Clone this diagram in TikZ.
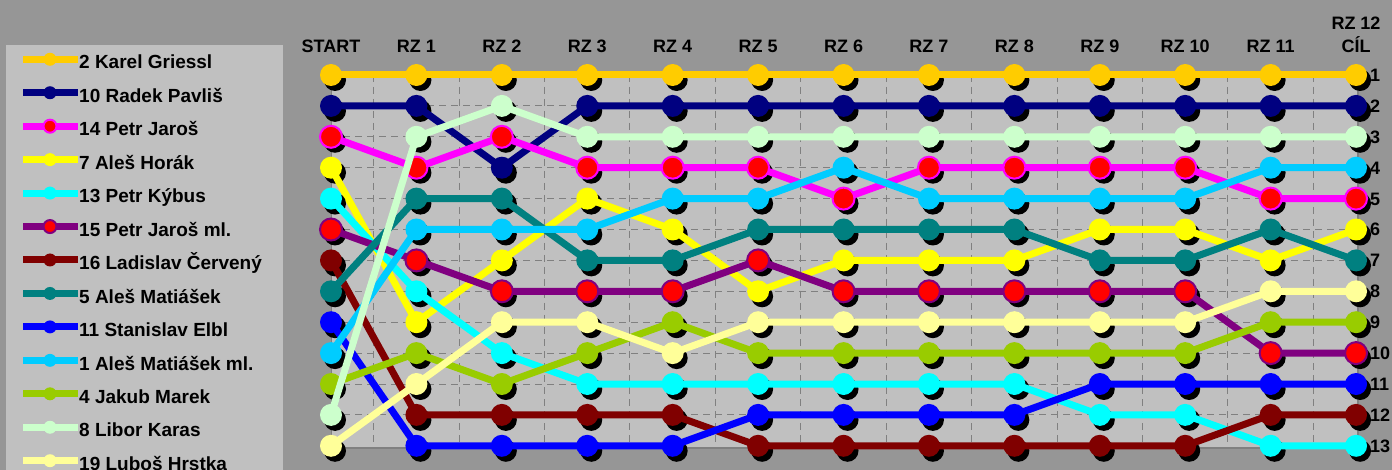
\documentclass[tikz,border=0pt]{standalone}
\usepackage{fontspec}
\setmainfont{Liberation Sans}
\usetikzlibrary{calc}
\definecolor{bggray}{HTML}{969696}
\definecolor{panelgray}{HTML}{C0C0C0}
\definecolor{gridgray}{HTML}{808080}
\definecolor{cgold}{HTML}{FFCC00}
\definecolor{cnavy}{HTML}{000080}
\definecolor{cmag}{HTML}{FF00FF}
\definecolor{cyel}{HTML}{FFFF00}
\definecolor{ccyan}{HTML}{00FFFF}
\definecolor{cpurple}{HTML}{800080}
\definecolor{cmaroon}{HTML}{800000}
\definecolor{cteal}{HTML}{008080}
\definecolor{cblue}{HTML}{0000FF}
\definecolor{csky}{HTML}{00CCFF}
\definecolor{cgreen}{HTML}{99CC00}
\definecolor{clgreen}{HTML}{CCFFCC}
\definecolor{clyel}{HTML}{FFFF99}
\definecolor{cred}{HTML}{FF0000}
\tikzset{
  axislabel/.style={font=\fontsize{18}{23.5}\selectfont\bfseries, align=center, inner sep=0pt},
  ranklabel/.style={font=\fontsize{18}{20}\selectfont\bfseries, anchor=base west, inner sep=0pt},
  legendtext/.style={font=\fontsize{19}{21}\selectfont\bfseries, anchor=base west, inner sep=0pt},
  gridline/.style={draw=gridgray, line width=1pt, dash pattern=on 7pt off 5pt},
  seriesline/.style={line width=7pt, line join=round, line cap=round},
  markshadow/.style={fill=black},
}
% #1 name, #2 line colour, #3 marker style, #4 ranks, #5 legend index, #6 legend text
\newcommand\drawseries[6]{%
  \foreach \r [count=\i from 0] in {#4} {
    \coordinate (#1-\i) at ({331+85.42*\i},{75+30.9*(\r-1)});
  }
  \foreach \i in {0,...,12} {\fill[markshadow] ($(#1-\i)+(4,5)$) circle (11pt);}
  \draw[seriesline, #2] (#1-0) \foreach \i in {1,...,12} {-- (#1-\i)};
  \foreach \i in {0,...,12} {\path[#3] (#1-\i) circle (11pt);}
  % legend entry
  \coordinate (#1-la) at (23,{59.3+33.45*#5});
  \coordinate (#1-lb) at (78,{59.3+33.45*#5});
  \coordinate (#1-lm) at (50,{59.3+33.45*#5});
  \draw[line width=7pt, #2] (#1-la) -- (#1-lb);
  \path[#3] (#1-lm) circle (6.5pt);
  \node[legendtext] (#1-lt) at (79,{59.3+33.45*#5+9.7}) {#6};
}
\begin{document}
\begin{tikzpicture}[x=1pt,y=-1pt]
\useasboundingbox (0,0) rectangle (1392,470);
\fill[bggray] (0,0) rectangle (1392,470);
% legend box
\fill[panelgray] (6,45) rectangle (283,475);
% plot area
\fill[gridgray] (333,77) rectangle (1359,449);
\fill[panelgray] (331,75) rectangle (1357,446.6);
\foreach \k in {0,...,11} {
  \draw[gridline] ({331+42.71+85.42*\k},75) -- ({331+42.71+85.42*\k},446.6);
}
\foreach \r in {2,...,12} {
  \draw[gridline] (331,{75+30.9*(\r-1)}) -- (1357,{75+30.9*(\r-1)});
}
\draw[gridgray, line width=1pt] (331,75) -- (331,446.6);
% axis labels
\foreach \t [count=\i from 0] in {START,RZ 1,RZ 2,RZ 3,RZ 4,RZ 5,RZ 6,RZ 7,RZ 8,RZ 9,RZ 10,RZ 11} {
  \node[axislabel, anchor=base] (cat-\i) at ({331+85.42*\i},52.7) {\t};
}
\node[axislabel, anchor=base] (cat-12a) at (1356,29.3) {RZ 12};
\node[axislabel, anchor=base] (cat-12) at (1356,52.7) {CÍL};
% series
\drawseries{gold}{cgold}{fill=cgold}{1,1,1,1,1,1,1,1,1,1,1,1,1}{0}{2 Karel Griessl}
\drawseries{navy}{cnavy}{fill=cnavy}{2,2,4,2,2,2,2,2,2,2,2,2,2}{1}{10 Radek Pavliš}
\drawseries{mag}{cmag}{fill=cred, draw=cmag, line width=2pt}{3,4,3,4,4,4,5,4,4,4,4,5,5}{2}{14 Petr Jaroš}
\drawseries{yel}{cyel}{fill=cyel}{4,9,7,5,6,8,7,7,7,6,6,7,6}{3}{7 Aleš Horák}
\drawseries{cyan}{ccyan}{fill=ccyan}{5,8,10,11,11,11,11,11,11,12,12,13,13}{4}{13 Petr Kýbus}
\drawseries{purple}{cpurple}{fill=cred, draw=cpurple, line width=2pt}{6,7,8,8,8,7,8,8,8,8,8,10,10}{5}{15 Petr Jaroš ml.}
\drawseries{maroon}{cmaroon}{fill=cmaroon}{7,12,12,12,12,13,13,13,13,13,13,12,12}{6}{16 Ladislav Červený}
\drawseries{teal}{cteal}{fill=cteal}{8,5,5,7,7,6,6,6,6,7,7,6,7}{7}{5 Aleš Matiášek}
\drawseries{blue}{cblue}{fill=cblue}{9,13,13,13,13,12,12,12,12,11,11,11,11}{8}{11 Stanislav Elbl}
\drawseries{sky}{csky}{fill=csky}{10,6,6,6,5,5,4,5,5,5,5,4,4}{9}{1 Aleš Matiášek ml.}
\drawseries{green}{cgreen}{fill=cgreen}{11,10,11,10,9,10,10,10,10,10,10,9,9}{10}{4 Jakub Marek}
\drawseries{lgreen}{clgreen}{fill=clgreen}{12,3,2,3,3,3,3,3,3,3,3,3,3}{11}{8 Libor Karas}
\drawseries{lyel}{clyel}{fill=clyel}{13,11,9,9,10,9,9,9,9,9,9,8,8}{12}{19 Luboš Hrstka}
% rank labels
\foreach \r in {1,...,13} {
  \node[ranklabel] (rank-\r) at (1370,{75+30.9*(\r-1)+6.5}) {\r};
}
\end{tikzpicture}
\end{document}
